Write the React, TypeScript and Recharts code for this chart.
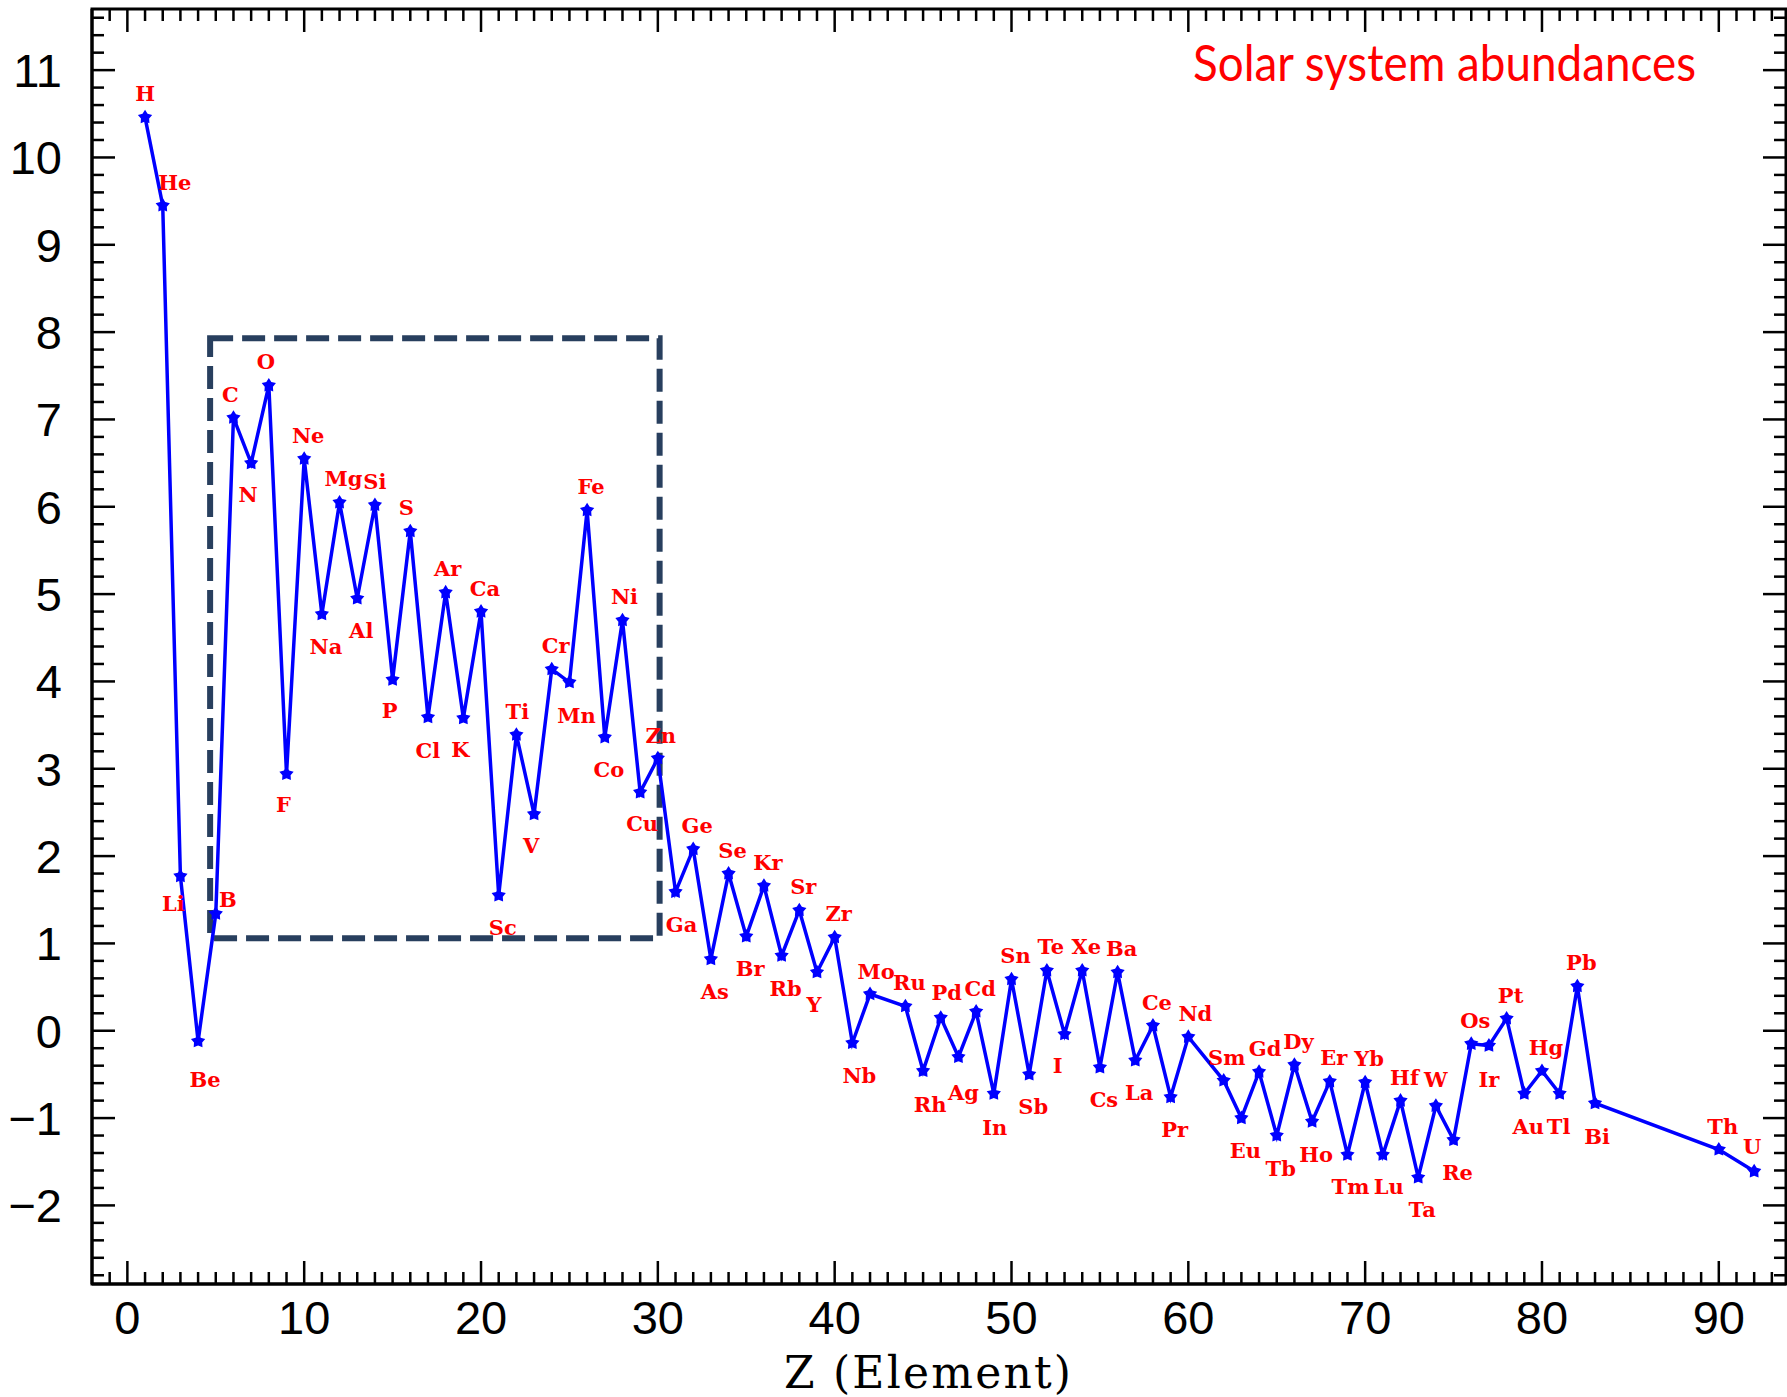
import React from 'react';
import { LineChart, Line, XAxis, YAxis, ReferenceArea, LabelList } from 'recharts';

// atomic numbers that have a measured abundance (Tc, Pm, Po..Ac, Pa are missing)
const zNumbers = [
  1, 2, 3, 4, 5, 6, 7, 8, 9, 10, 11, 12, 13, 14, 15, 16, 17, 18, 19, 20,
  21, 22, 23, 24, 25, 26, 27, 28, 29, 30, 31, 32, 33, 34, 35, 36, 37, 38, 39, 40,
  41, 42, 44, 45, 46, 47, 48, 49, 50, 51, 52, 53, 54, 55, 56, 57, 58, 59, 60,
  62, 63, 64, 65, 66, 67, 68, 69, 70, 71, 72, 73, 74, 75, 76, 77, 78, 79, 80,
  81, 82, 83, 90, 92,
];

const symbols = [
  'H', 'He', 'Li', 'Be', 'B', 'C', 'N', 'O', 'F', 'Ne', 'Na', 'Mg', 'Al', 'Si', 'P', 'S', 'Cl', 'Ar', 'K', 'Ca',
  'Sc', 'Ti', 'V', 'Cr', 'Mn', 'Fe', 'Co', 'Ni', 'Cu', 'Zn', 'Ga', 'Ge', 'As', 'Se', 'Br', 'Kr', 'Rb', 'Sr', 'Y', 'Zr',
  'Nb', 'Mo', 'Ru', 'Rh', 'Pd', 'Ag', 'Cd', 'In', 'Sn', 'Sb', 'Te', 'I', 'Xe', 'Cs', 'Ba', 'La', 'Ce', 'Pr', 'Nd',
  'Sm', 'Eu', 'Gd', 'Tb', 'Dy', 'Ho', 'Er', 'Tm', 'Yb', 'Lu', 'Hf', 'Ta', 'W', 'Re', 'Os', 'Ir', 'Pt', 'Au', 'Hg',
  'Tl', 'Pb', 'Bi', 'Th', 'U',
];

// log abundance, Si = 10^6
const logAbundance = [
  10.46, 9.45, 1.77, -0.12, 1.34, 7.02, 6.5, 7.39, 2.94, 6.55, 4.77, 6.05, 4.95, 6.02, 4.02, 5.72, 3.59, 5.02, 3.58, 4.8,
  1.55, 3.39, 2.48, 4.14, 3.99, 5.96, 3.36, 4.7, 2.73, 3.12, 1.59, 2.08, 0.82, 1.8, 1.08, 1.66, 0.86, 1.38, 0.67, 1.07,
  -0.14, 0.42, 0.28, -0.46, 0.15, -0.3, 0.22, -0.72, 0.59, -0.5, 0.69, -0.04, 0.69, -0.42, 0.67, -0.34, 0.06, -0.76, -0.07,
  -0.57, -1.0, -0.47, -1.2, -0.39, -1.04, -0.58, -1.42, -0.59, -1.42, -0.8, -1.68, -0.86, -1.25, -0.15, -0.17, 0.14, -0.72, -0.46,
  -0.72, 0.51, -0.83, -1.36, -1.61,
];

const xMajorTicks = [0, 10, 20, 30, 40, 50, 60, 70, 80, 90];
const yMajorTicks = [-2, -1, 0, 1, 2, 3, 4, 5, 6, 7, 8, 9, 10, 11];

const X_DOMAIN: [number, number] = [-2, 93.8];
const Y_DOMAIN: [number, number] = [-2.9, 11.7];
const BOX = { x1: 4.68, x2: 30.1, y1: 1.06, y2: 7.93 };

const W = 1787;
const H = 1397;
const PLOT_TOP = 9;
const PLOT_RIGHT = 1786;

// minor ticks: every 1 in Z, every 0.2 in abundance
const xTicks: number[] = [];
for (let i = -1; i <= 93; i++) xTicks.push(i);
const yTicks: number[] = [];
for (let i = -14; i <= 58; i++) yTicks.push(Math.round(i * 2) / 10);

// label placement: u = above the point, everything else below
const labelSide: Record<string, string> = {};
'H He C O Ne Mg Si S Ar Ca Ti Cr Fe Ni Zn Ge Se Kr Sr Zr Mo Ru Pd Cd Sn Te Xe Ba Ce Nd Sm Gd Dy Er Yb Hf W Os Pt Hg Pb Th U B'
  .split(' ')
  .forEach((s) => (labelSide[s] = 'u'));
const labelNudge: Record<string, [number, number]> = {
  H: [0, -24], He: [12, -23], Li: [-7, 27], Be: [7, 38], B: [12, -15], C: [-3, -24], N: [-3, 31],
  O: [-3, -24], F: [-3, 30], Si: [0, -24], P: [-3, 30], S: [-4, -24], Cl: [0, 33], Ar: [2, -24],
  K: [-3, 31], Ti: [1, -24], V: [-3, 31], Mn: [7, 33], Ni: [2, -24], Cu: [2, 31], Zn: [3, -23],
  Ga: [6, 32], Y: [-3, 32], Nb: [7, 32], Mo: [6, -23], Rh: [7, 33], Pd: [6, -26], Ag: [5, 35],
  In: [1, 33], I: [-7, 31], Nd: [7, -24], Sm: [3, -24], Gd: [6, -24], Tm: [3, 31], Lu: [6, 31],
  W: [0, -27], Ir: [0, 33], Tl: [-1, 32], Bi: [2, 33], U: [-2, -25],
};

const rows = zNumbers.map((z, i) => ({ z, sym: symbols[i], abund: logAbundance[i] }));

const starPath = (cx: number, cy: number) => {
  let d = '';
  for (let k = 0; k < 10; k++) {
    const a = (-90 + k * 36) * (Math.PI / 180);
    const r = k % 2 === 0 ? 7.5 : 4.3;
    d += `${k === 0 ? 'M' : 'L'}${cx + r * Math.cos(a)},${cy + r * Math.sin(a)}`;
  }
  return d + 'Z';
};

const TICK_FONT = 'Liberation Sans, Arial, sans-serif';

const XTick = (props: any) => {
  const { x, y, payload } = props;
  const v = payload.value;
  const major = xMajorTicks.includes(v);
  const len = major ? 23 : 12;
  return (
    <g>
      <line x1={x} y1={y} x2={x} y2={y - len} stroke="#000" strokeWidth={2.5} />
      <line x1={x} y1={PLOT_TOP} x2={x} y2={PLOT_TOP + len} stroke="#000" strokeWidth={2.5} />
      {major && (
        <text x={x} y={y + 50} textAnchor="middle" fontFamily={TICK_FONT} fontSize={47} fill="#000">
          {v}
        </text>
      )}
    </g>
  );
};

const YTick = (props: any) => {
  const { x, y, payload } = props;
  const v = payload.value;
  const major = yMajorTicks.includes(v);
  const len = major ? 23 : 12;
  return (
    <g>
      <line x1={x} y1={y} x2={x + len} y2={y} stroke="#000" strokeWidth={2.5} />
      <line x1={PLOT_RIGHT} y1={y} x2={PLOT_RIGHT - len} y2={y} stroke="#000" strokeWidth={2.5} />
      {major && (
        <text x={x - 30} y={y + 17} textAnchor="end" fontFamily={TICK_FONT} fontSize={47} fill="#000">
          {v < 0 ? `\u2212${Math.abs(v)}` : v}
        </text>
      )}
    </g>
  );
};

const ElementLabel = (props: any) => {
  const px = props.x ?? props.viewBox?.x;
  const py = props.y ?? props.viewBox?.y;
  const sym = props.value as string;
  const up = labelSide[sym] === 'u';
  const [dx, dy] = labelNudge[sym] ?? [4, up ? -24 : 32];
  return (
    <text
      x={px + dx}
      y={py + dy + 8}
      textAnchor="middle"
      fontFamily="DejaVu Serif"
      fontWeight="bold"
      fontSize={21}
      fill="#ff0000"
    >
      {sym}
    </text>
  );
};

export default function App() {
  return (
    <div style={{ position: 'absolute', left: 0, top: 0, width: W, height: H, background: '#fff' }}>
      <LineChart width={W} height={H} data={rows} margin={{ top: PLOT_TOP, right: W - PLOT_RIGHT, left: 0, bottom: 0 }}>
        <XAxis
          type="number"
          dataKey="z"
          domain={X_DOMAIN}
          ticks={xTicks}
          interval={0}
          height={113}
          tickSize={0}
          tickMargin={0}
          tickLine={false}
          tick={XTick}
          axisLine={{ stroke: '#000', strokeWidth: 3 }}
          allowDataOverflow
        />
        <YAxis
          type="number"
          domain={Y_DOMAIN}
          ticks={yTicks}
          interval={0}
          width={92}
          tickSize={0}
          tickMargin={0}
          tickLine={false}
          tick={YTick}
          axisLine={{ stroke: '#000', strokeWidth: 3 }}
          allowDataOverflow
        />
        <ReferenceArea
          x1={X_DOMAIN[0]}
          x2={X_DOMAIN[1]}
          y1={Y_DOMAIN[0]}
          y2={Y_DOMAIN[1]}
          fill="none"
          stroke="#000"
          strokeWidth={3}
          ifOverflow="visible"
        />
        <ReferenceArea
          x1={BOX.x1}
          x2={BOX.x2}
          y1={BOX.y1}
          y2={BOX.y2}
          fill="none"
          fillOpacity={0}
          stroke="#283f5e"
          strokeWidth={6}
          strokeDasharray="23 9"
          ifOverflow="visible"
        />
        <Line
          type="linear"
          dataKey="abund"
          stroke="#0000ff"
          strokeWidth={3.5}
          isAnimationActive={false}
          activeDot={false}
          dot={(p: any) => <path key={`d${p.index}`} d={starPath(p.cx, p.cy)} fill="#0000ff" />}
        >
          <LabelList dataKey="sym" content={ElementLabel} />
        </Line>
      </LineChart>
      <svg width={W} height={H} style={{ position: 'absolute', left: 0, top: 0, pointerEvents: 'none' }}>
        <text x={1193} y={81} fontFamily="Lato" fontSize={50} fill="#ff0000" textLength={503} lengthAdjust="spacingAndGlyphs">
          Solar system abundances
        </text>
        <text x={784} y={1388} fontFamily="DejaVu Serif" fontSize={44} fill="#000" textLength={287} lengthAdjust="spacing">
          Z (Element)
        </text>
      </svg>
    </div>
  );
}
